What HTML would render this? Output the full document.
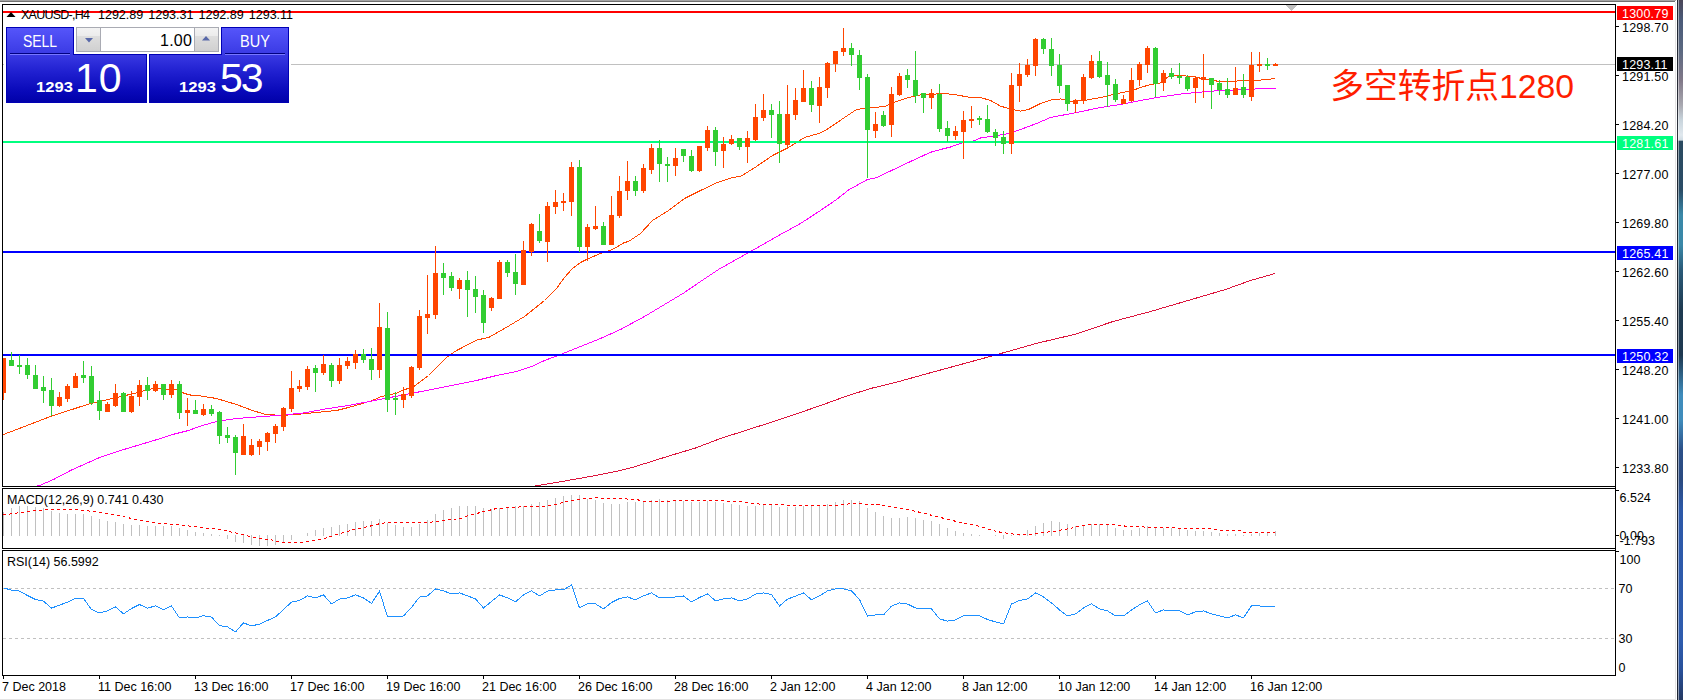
<!DOCTYPE html>
<html lang="zh"><head><meta charset="utf-8"><title>XAUUSD H4</title>
<style>
html,body{margin:0;padding:0;background:#fff;}
body{width:1683px;height:700px;position:relative;overflow:hidden;font-family:"Liberation Sans","Noto Sans CJK SC",sans-serif;}
#chart{position:absolute;left:0;top:0;}
.t{position:absolute;white-space:nowrap;line-height:1;color:#000;}
.ax{font-size:12.5px;left:1622px;letter-spacing:0.2px;}
.axi{font-size:12.5px;left:1619.5px;}
.tm{font-size:12.5px;top:681px;}
.lb{position:absolute;left:1617px;width:56px;height:14px;}
.lb span{position:absolute;left:5px;top:2px;font-size:12.5px;letter-spacing:0.2px;line-height:1;color:#fff;white-space:nowrap;}
#panel{position:absolute;left:6px;top:27px;width:283px;height:76px;}
.w{color:#fff;}
</style></head><body>
<svg id="chart" width="1683" height="700" viewBox="0 0 1683 700" shape-rendering="crispEdges">
<rect x="0" y="0" width="1676" height="1" fill="#a4a4a4"/><rect x="0" y="1" width="1675" height="1" fill="#707070"/>
<rect x="0" y="699" width="1676" height="1" fill="#e3e3e3"/>
<defs><linearGradient id="rg" x1="0" y1="0" x2="0" y2="1"><stop offset="0.0000" stop-color="#4a4658"/><stop offset="0.0286" stop-color="#4a5a78"/><stop offset="0.0714" stop-color="#5a6880"/><stop offset="0.1143" stop-color="#807888"/><stop offset="0.1500" stop-color="#a8a8b0"/><stop offset="0.1714" stop-color="#c8d4dc"/><stop offset="0.1929" stop-color="#e0e8ee"/><stop offset="0.2000" stop-color="#d0dce4"/><stop offset="0.2021" stop-color="#2a4a60"/><stop offset="0.2714" stop-color="#2a4c66"/><stop offset="0.3071" stop-color="#3a88a8"/><stop offset="0.3500" stop-color="#3a88a8"/><stop offset="0.3857" stop-color="#2a5a78"/><stop offset="0.4429" stop-color="#1e3a50"/><stop offset="0.5071" stop-color="#1e3850"/><stop offset="0.5643" stop-color="#3f8cbc"/><stop offset="0.6000" stop-color="#3f8cbc"/><stop offset="0.6429" stop-color="#2c5088"/><stop offset="0.6857" stop-color="#2a4a80"/><stop offset="0.7286" stop-color="#2c58a8"/><stop offset="0.9143" stop-color="#2e5cae"/><stop offset="0.9571" stop-color="#28509a"/><stop offset="1.0000" stop-color="#243860"/></linearGradient></defs>
<rect x="1675" y="2" width="1" height="698" fill="#e4e4e4"/>
<rect x="1677" y="0" width="6" height="700" fill="url(#rg)"/>
<rect x="1677" y="0" width="1" height="700" fill="#20242e" fill-opacity="0.92"/>
<rect x="1678" y="0" width="1" height="700" fill="#ffffff" fill-opacity="0.5"/>
<rect x="3" y="64" width="1612" height="1" fill="#c0c0c0"/>
<polyline points="3.5,434.5 50.5,416.5 88.5,404.1 112.5,398.5 136.5,392.9 152.5,388.5 176.5,389.5 184.5,393.5 192.5,395.5 200.5,395.9 216.5,398.5 236.5,404.5 252.5,410.5 264.5,414.1 280.5,415.5 296.5,414.5 316.5,412.5 336.5,410.5 348.5,407.5 372.5,400.5 380.5,396.9 396.5,393.1 404.5,389.5 412.5,387.5 420.5,381.5 428.5,375.5 436.5,367.5 446.5,357.5 456.5,350.5 460.5,348.5 476.5,340.1 488.5,337.5 504.5,328.5 524.5,316.5 544.5,300.5 556.5,288.5 564.5,277.5 572.5,268.5 580.5,262.5 588.5,258.5 600.5,253.5 612.5,249.5 624.5,242.5 628.5,241.5 640.5,233.5 652.5,220.5 668.5,210.5 684.5,198.5 700.5,190.5 716.5,182.9 732.5,177.5 740.5,176.5 756.5,166.5 772.5,155.5 788.5,147.5 804.5,137.5 820.5,132.9 828.5,128.5 844.5,117.5 856.5,109.5 868.5,107.9 884.5,106.5 896.5,101.5 908.5,97.5 920.5,94.9 934.5,94.1 944.5,93.5 956.5,94.9 968.5,97.1 980.5,97.5 990.5,100.5 1000.5,106.1 1010.5,109.1 1020.5,111.1 1028.5,109.5 1040.5,103.5 1050.5,100.1 1060.5,98.9 1070.5,101.5 1084.5,100.5 1100.5,97.5 1120.5,92.9 1132.5,90.5 1140.5,87.5 1150.5,84.5 1160.5,82.9 1168.5,76.5 1180.5,75.5 1196.5,77.1 1204.5,79.5 1220.5,81.5 1236.5,81.1 1244.5,80.1 1260.5,80.1 1275.5,78.5" fill="none" stroke="#ff4500" stroke-width="1" />
<polyline points="34.5,486.5 39.5,485.5 53.5,479.5 70.5,470.5 88.5,462.5 100.5,457.1 120.5,450.5 140.5,444.5 160.5,438.5 172.5,434.5 188.5,430.5 200.5,426.1 216.5,421.5 236.5,418.5 276.5,415.5 304.5,412.9 324.5,409.1 348.5,405.5 376.5,400.1 416.5,392.4 436.5,388.5 456.5,384.5 476.5,380.5 496.5,375.5 516.5,371.5 532.5,366.1 544.5,360.5 560.5,354.5 580.5,346.5 600.5,338.5 620.5,329.5 644.5,316.5 664.5,304.5 684.5,292.5 700.5,281.5 718.5,269.5 750.5,251.5 780.5,234.5 800.5,223.5 820.5,210.5 836.5,199.5 848.5,190.0 867.5,179.5 876.5,177.7 890.5,171.0 910.5,161.5 930.5,152.3 940.5,149.5 950.5,147.0 959.5,143.7 967.5,141.2 973.5,141.0 980.5,138.0 990.5,136.5 1000.5,135.0 1008.5,133.5 1020.5,129.5 1036.5,123.5 1050.5,117.5 1076.5,112.5 1100.5,107.5 1120.5,104.5 1140.5,100.5 1160.5,96.9 1180.5,94.1 1200.5,92.1 1220.5,90.5 1240.5,89.9 1256.5,88.9 1275.5,88.9" fill="none" stroke="#ff00ff" stroke-width="1" />
<polyline points="535.5,486.0 570.5,480.0 595.5,475.5 620.5,470.5 635.5,466.5 670.5,455.5 695.5,448.0 720.5,438.5 745.5,430.5 770.5,422.5 795.5,414.2 820.5,405.5 845.5,396.5 870.5,388.5 895.5,382.5 920.5,375.5 940.5,370.0 995.5,355.0 1038.0,343.0 1075.5,334.2 1113.0,321.5 1150.5,311.5 1188.0,300.5 1225.5,289.5 1250.5,280.5 1275.0,273.5" fill="none" stroke="#dc143c" stroke-width="1" />
<rect x="3" y="11" width="1612" height="2" fill="#ff0000"/>
<rect x="3" y="141" width="1612" height="2" fill="#00ff7f"/>
<rect x="3" y="251" width="1612" height="2" fill="#0000ff"/>
<rect x="3" y="354" width="1612" height="2" fill="#0000ff"/>
<rect x="3" y="358" width="1" height="42" fill="#ff4500"/><rect x="3" y="358" width="3" height="35" fill="#ff4500"/>
<rect x="11" y="352" width="1" height="14" fill="#32cd32"/><rect x="9" y="360" width="5" height="6" fill="#32cd32"/>
<rect x="19" y="355" width="1" height="19" fill="#32cd32"/><rect x="17" y="365" width="5" height="2" fill="#32cd32"/>
<rect x="27" y="358" width="1" height="21" fill="#32cd32"/><rect x="25" y="365" width="5" height="10" fill="#32cd32"/>
<rect x="35" y="365" width="1" height="24" fill="#32cd32"/><rect x="33" y="375" width="5" height="14" fill="#32cd32"/>
<rect x="43" y="376" width="1" height="27" fill="#32cd32"/><rect x="41" y="387" width="5" height="4" fill="#32cd32"/>
<rect x="51" y="378" width="1" height="38" fill="#32cd32"/><rect x="49" y="390" width="5" height="16" fill="#32cd32"/>
<rect x="59" y="392" width="1" height="15" fill="#ff4500"/><rect x="57" y="397" width="5" height="9" fill="#ff4500"/>
<rect x="67" y="384" width="1" height="18" fill="#ff4500"/><rect x="65" y="386" width="5" height="13" fill="#ff4500"/>
<rect x="75" y="373" width="1" height="15" fill="#ff4500"/><rect x="73" y="376" width="5" height="12" fill="#ff4500"/>
<rect x="83" y="361" width="1" height="22" fill="#32cd32"/><rect x="81" y="375" width="5" height="3" fill="#32cd32"/>
<rect x="91" y="366" width="1" height="39" fill="#32cd32"/><rect x="89" y="376" width="5" height="27" fill="#32cd32"/>
<rect x="99" y="391" width="1" height="29" fill="#32cd32"/><rect x="97" y="400" width="5" height="11" fill="#32cd32"/>
<rect x="107" y="402" width="1" height="10" fill="#ff4500"/><rect x="105" y="404" width="5" height="8" fill="#ff4500"/>
<rect x="115" y="384" width="1" height="23" fill="#ff4500"/><rect x="113" y="393" width="5" height="13" fill="#ff4500"/>
<rect x="123" y="392" width="1" height="20" fill="#32cd32"/><rect x="121" y="393" width="5" height="19" fill="#32cd32"/>
<rect x="131" y="391" width="1" height="22" fill="#ff4500"/><rect x="129" y="396" width="5" height="16" fill="#ff4500"/>
<rect x="139" y="380" width="1" height="26" fill="#ff4500"/><rect x="137" y="385" width="5" height="12" fill="#ff4500"/>
<rect x="147" y="377" width="1" height="23" fill="#32cd32"/><rect x="145" y="385" width="5" height="6" fill="#32cd32"/>
<rect x="155" y="381" width="1" height="11" fill="#ff4500"/><rect x="153" y="384" width="5" height="7" fill="#ff4500"/>
<rect x="163" y="384" width="1" height="16" fill="#32cd32"/><rect x="161" y="384" width="5" height="11" fill="#32cd32"/>
<rect x="171" y="380" width="1" height="18" fill="#ff4500"/><rect x="169" y="384" width="5" height="11" fill="#ff4500"/>
<rect x="179" y="381" width="1" height="38" fill="#32cd32"/><rect x="177" y="384" width="5" height="29" fill="#32cd32"/>
<rect x="187" y="398" width="1" height="28" fill="#ff4500"/><rect x="185" y="410" width="5" height="3" fill="#ff4500"/>
<rect x="195" y="400" width="1" height="14" fill="#32cd32"/><rect x="193" y="410" width="5" height="4" fill="#32cd32"/>
<rect x="203" y="404" width="1" height="12" fill="#ff4500"/><rect x="201" y="409" width="5" height="6" fill="#ff4500"/>
<rect x="211" y="405" width="1" height="11" fill="#32cd32"/><rect x="209" y="409" width="5" height="5" fill="#32cd32"/>
<rect x="219" y="411" width="1" height="33" fill="#32cd32"/><rect x="217" y="412" width="5" height="24" fill="#32cd32"/>
<rect x="227" y="427" width="1" height="16" fill="#32cd32"/><rect x="225" y="435" width="5" height="3" fill="#32cd32"/>
<rect x="235" y="435" width="1" height="40" fill="#32cd32"/><rect x="233" y="437" width="5" height="16" fill="#32cd32"/>
<rect x="243" y="424" width="1" height="31" fill="#ff4500"/><rect x="241" y="436" width="5" height="19" fill="#ff4500"/>
<rect x="251" y="439" width="1" height="17" fill="#ff4500"/><rect x="249" y="445" width="5" height="10" fill="#ff4500"/>
<rect x="259" y="439" width="1" height="16" fill="#ff4500"/><rect x="257" y="441" width="5" height="6" fill="#ff4500"/>
<rect x="267" y="432" width="1" height="19" fill="#ff4500"/><rect x="265" y="433" width="5" height="9" fill="#ff4500"/>
<rect x="275" y="424" width="1" height="19" fill="#ff4500"/><rect x="273" y="426" width="5" height="8" fill="#ff4500"/>
<rect x="283" y="407" width="1" height="24" fill="#ff4500"/><rect x="281" y="408" width="5" height="19" fill="#ff4500"/>
<rect x="291" y="371" width="1" height="41" fill="#ff4500"/><rect x="289" y="388" width="5" height="21" fill="#ff4500"/>
<rect x="299" y="380" width="1" height="12" fill="#ff4500"/><rect x="297" y="386" width="5" height="3" fill="#ff4500"/>
<rect x="307" y="366" width="1" height="24" fill="#ff4500"/><rect x="305" y="369" width="5" height="18" fill="#ff4500"/>
<rect x="315" y="365" width="1" height="27" fill="#32cd32"/><rect x="313" y="368" width="5" height="5" fill="#32cd32"/>
<rect x="323" y="355" width="1" height="20" fill="#ff4500"/><rect x="321" y="364" width="5" height="9" fill="#ff4500"/>
<rect x="331" y="363" width="1" height="24" fill="#32cd32"/><rect x="329" y="365" width="5" height="16" fill="#32cd32"/>
<rect x="339" y="358" width="1" height="26" fill="#ff4500"/><rect x="337" y="365" width="5" height="16" fill="#ff4500"/>
<rect x="347" y="357" width="1" height="12" fill="#ff4500"/><rect x="345" y="361" width="5" height="5" fill="#ff4500"/>
<rect x="355" y="350" width="1" height="19" fill="#ff4500"/><rect x="353" y="354" width="5" height="9" fill="#ff4500"/>
<rect x="363" y="349" width="1" height="14" fill="#32cd32"/><rect x="361" y="354" width="5" height="6" fill="#32cd32"/>
<rect x="371" y="348" width="1" height="32" fill="#32cd32"/><rect x="369" y="359" width="5" height="11" fill="#32cd32"/>
<rect x="379" y="303" width="1" height="75" fill="#ff4500"/><rect x="377" y="327" width="5" height="43" fill="#ff4500"/>
<rect x="387" y="312" width="1" height="100" fill="#32cd32"/><rect x="385" y="328" width="5" height="72" fill="#32cd32"/>
<rect x="395" y="392" width="1" height="23" fill="#32cd32"/><rect x="393" y="398" width="5" height="2" fill="#32cd32"/>
<rect x="403" y="387" width="1" height="21" fill="#ff4500"/><rect x="401" y="394" width="5" height="6" fill="#ff4500"/>
<rect x="411" y="366" width="1" height="32" fill="#ff4500"/><rect x="409" y="367" width="5" height="29" fill="#ff4500"/>
<rect x="419" y="310" width="1" height="60" fill="#ff4500"/><rect x="417" y="316" width="5" height="52" fill="#ff4500"/>
<rect x="427" y="275" width="1" height="59" fill="#ff4500"/><rect x="425" y="314" width="5" height="4" fill="#ff4500"/>
<rect x="435" y="246" width="1" height="73" fill="#ff4500"/><rect x="433" y="273" width="5" height="42" fill="#ff4500"/>
<rect x="443" y="263" width="1" height="32" fill="#32cd32"/><rect x="441" y="273" width="5" height="5" fill="#32cd32"/>
<rect x="451" y="272" width="1" height="19" fill="#32cd32"/><rect x="449" y="276" width="5" height="12" fill="#32cd32"/>
<rect x="459" y="278" width="1" height="21" fill="#ff4500"/><rect x="457" y="280" width="5" height="9" fill="#ff4500"/>
<rect x="467" y="271" width="1" height="46" fill="#32cd32"/><rect x="465" y="280" width="5" height="10" fill="#32cd32"/>
<rect x="475" y="276" width="1" height="37" fill="#32cd32"/><rect x="473" y="289" width="5" height="8" fill="#32cd32"/>
<rect x="483" y="290" width="1" height="43" fill="#32cd32"/><rect x="481" y="295" width="5" height="28" fill="#32cd32"/>
<rect x="491" y="297" width="1" height="14" fill="#ff4500"/><rect x="489" y="298" width="5" height="10" fill="#ff4500"/>
<rect x="499" y="260" width="1" height="39" fill="#ff4500"/><rect x="497" y="262" width="5" height="37" fill="#ff4500"/>
<rect x="507" y="260" width="1" height="17" fill="#32cd32"/><rect x="505" y="262" width="5" height="11" fill="#32cd32"/>
<rect x="515" y="254" width="1" height="41" fill="#32cd32"/><rect x="513" y="272" width="5" height="12" fill="#32cd32"/>
<rect x="523" y="241" width="1" height="44" fill="#ff4500"/><rect x="521" y="250" width="5" height="35" fill="#ff4500"/>
<rect x="531" y="223" width="1" height="33" fill="#ff4500"/><rect x="529" y="224" width="5" height="28" fill="#ff4500"/>
<rect x="539" y="214" width="1" height="29" fill="#32cd32"/><rect x="537" y="231" width="5" height="10" fill="#32cd32"/>
<rect x="547" y="202" width="1" height="60" fill="#ff4500"/><rect x="545" y="206" width="5" height="36" fill="#ff4500"/>
<rect x="555" y="190" width="1" height="24" fill="#ff4500"/><rect x="553" y="202" width="5" height="5" fill="#ff4500"/>
<rect x="563" y="193" width="1" height="18" fill="#ff4500"/><rect x="561" y="201" width="5" height="2" fill="#ff4500"/>
<rect x="571" y="162" width="1" height="54" fill="#ff4500"/><rect x="569" y="167" width="5" height="35" fill="#ff4500"/>
<rect x="579" y="160" width="1" height="92" fill="#32cd32"/><rect x="577" y="167" width="5" height="80" fill="#32cd32"/>
<rect x="587" y="224" width="1" height="37" fill="#ff4500"/><rect x="585" y="227" width="5" height="20" fill="#ff4500"/>
<rect x="595" y="206" width="1" height="24" fill="#ff4500"/><rect x="593" y="226" width="5" height="3" fill="#ff4500"/>
<rect x="603" y="222" width="1" height="23" fill="#32cd32"/><rect x="601" y="226" width="5" height="19" fill="#32cd32"/>
<rect x="611" y="196" width="1" height="49" fill="#ff4500"/><rect x="609" y="215" width="5" height="30" fill="#ff4500"/>
<rect x="619" y="176" width="1" height="42" fill="#ff4500"/><rect x="617" y="191" width="5" height="25" fill="#ff4500"/>
<rect x="627" y="161" width="1" height="39" fill="#ff4500"/><rect x="625" y="181" width="5" height="10" fill="#ff4500"/>
<rect x="635" y="176" width="1" height="20" fill="#32cd32"/><rect x="633" y="181" width="5" height="10" fill="#32cd32"/>
<rect x="643" y="164" width="1" height="29" fill="#ff4500"/><rect x="641" y="168" width="5" height="23" fill="#ff4500"/>
<rect x="651" y="144" width="1" height="30" fill="#ff4500"/><rect x="649" y="148" width="5" height="22" fill="#ff4500"/>
<rect x="659" y="140" width="1" height="42" fill="#32cd32"/><rect x="657" y="148" width="5" height="16" fill="#32cd32"/>
<rect x="667" y="157" width="1" height="25" fill="#32cd32"/><rect x="665" y="164" width="5" height="2" fill="#32cd32"/>
<rect x="675" y="148" width="1" height="28" fill="#ff4500"/><rect x="673" y="158" width="5" height="8" fill="#ff4500"/>
<rect x="683" y="149" width="1" height="13" fill="#32cd32"/><rect x="681" y="149" width="5" height="7" fill="#32cd32"/>
<rect x="691" y="150" width="1" height="22" fill="#32cd32"/><rect x="689" y="156" width="5" height="15" fill="#32cd32"/>
<rect x="699" y="146" width="1" height="26" fill="#ff4500"/><rect x="697" y="146" width="5" height="25" fill="#ff4500"/>
<rect x="707" y="126" width="1" height="25" fill="#ff4500"/><rect x="705" y="130" width="5" height="18" fill="#ff4500"/>
<rect x="715" y="127" width="1" height="39" fill="#32cd32"/><rect x="713" y="130" width="5" height="22" fill="#32cd32"/>
<rect x="723" y="137" width="1" height="31" fill="#ff4500"/><rect x="721" y="144" width="5" height="7" fill="#ff4500"/>
<rect x="731" y="135" width="1" height="10" fill="#ff4500"/><rect x="729" y="139" width="5" height="5" fill="#ff4500"/>
<rect x="739" y="138" width="1" height="12" fill="#32cd32"/><rect x="737" y="138" width="5" height="9" fill="#32cd32"/>
<rect x="747" y="131" width="1" height="32" fill="#ff4500"/><rect x="745" y="138" width="5" height="9" fill="#ff4500"/>
<rect x="755" y="104" width="1" height="37" fill="#ff4500"/><rect x="753" y="117" width="5" height="23" fill="#ff4500"/>
<rect x="763" y="94" width="1" height="27" fill="#ff4500"/><rect x="761" y="110" width="5" height="8" fill="#ff4500"/>
<rect x="771" y="104" width="1" height="34" fill="#32cd32"/><rect x="769" y="110" width="5" height="5" fill="#32cd32"/>
<rect x="779" y="101" width="1" height="62" fill="#32cd32"/><rect x="777" y="114" width="5" height="30" fill="#32cd32"/>
<rect x="787" y="85" width="1" height="63" fill="#ff4500"/><rect x="785" y="114" width="5" height="31" fill="#ff4500"/>
<rect x="795" y="88" width="1" height="32" fill="#ff4500"/><rect x="793" y="100" width="5" height="15" fill="#ff4500"/>
<rect x="803" y="70" width="1" height="32" fill="#ff4500"/><rect x="801" y="88" width="5" height="14" fill="#ff4500"/>
<rect x="811" y="81" width="1" height="31" fill="#32cd32"/><rect x="809" y="88" width="5" height="17" fill="#32cd32"/>
<rect x="819" y="77" width="1" height="46" fill="#ff4500"/><rect x="817" y="87" width="5" height="19" fill="#ff4500"/>
<rect x="827" y="62" width="1" height="36" fill="#ff4500"/><rect x="825" y="63" width="5" height="25" fill="#ff4500"/>
<rect x="835" y="51" width="1" height="21" fill="#ff4500"/><rect x="833" y="51" width="5" height="13" fill="#ff4500"/>
<rect x="843" y="28" width="1" height="28" fill="#ff4500"/><rect x="841" y="48" width="5" height="4" fill="#ff4500"/>
<rect x="851" y="43" width="1" height="23" fill="#32cd32"/><rect x="849" y="48" width="5" height="7" fill="#32cd32"/>
<rect x="859" y="50" width="1" height="40" fill="#32cd32"/><rect x="857" y="55" width="5" height="23" fill="#32cd32"/>
<rect x="867" y="74" width="1" height="104" fill="#32cd32"/><rect x="865" y="77" width="5" height="53" fill="#32cd32"/>
<rect x="875" y="112" width="1" height="26" fill="#ff4500"/><rect x="873" y="124" width="5" height="7" fill="#ff4500"/>
<rect x="883" y="111" width="1" height="16" fill="#32cd32"/><rect x="881" y="115" width="5" height="11" fill="#32cd32"/>
<rect x="891" y="87" width="1" height="50" fill="#ff4500"/><rect x="889" y="94" width="5" height="31" fill="#ff4500"/>
<rect x="899" y="73" width="1" height="23" fill="#ff4500"/><rect x="897" y="76" width="5" height="19" fill="#ff4500"/>
<rect x="907" y="69" width="1" height="19" fill="#32cd32"/><rect x="905" y="75" width="5" height="5" fill="#32cd32"/>
<rect x="915" y="51" width="1" height="52" fill="#32cd32"/><rect x="913" y="80" width="5" height="16" fill="#32cd32"/>
<rect x="923" y="93" width="1" height="20" fill="#32cd32"/><rect x="921" y="93" width="5" height="5" fill="#32cd32"/>
<rect x="931" y="89" width="1" height="20" fill="#ff4500"/><rect x="929" y="93" width="5" height="5" fill="#ff4500"/>
<rect x="939" y="84" width="1" height="48" fill="#32cd32"/><rect x="937" y="94" width="5" height="35" fill="#32cd32"/>
<rect x="947" y="121" width="1" height="21" fill="#32cd32"/><rect x="945" y="128" width="5" height="8" fill="#32cd32"/>
<rect x="955" y="126" width="1" height="14" fill="#ff4500"/><rect x="953" y="131" width="5" height="5" fill="#ff4500"/>
<rect x="963" y="111" width="1" height="48" fill="#ff4500"/><rect x="961" y="120" width="5" height="12" fill="#ff4500"/>
<rect x="971" y="106" width="1" height="22" fill="#ff4500"/><rect x="969" y="119" width="5" height="2" fill="#ff4500"/>
<rect x="979" y="116" width="1" height="9" fill="#32cd32"/><rect x="977" y="118" width="5" height="2" fill="#32cd32"/>
<rect x="987" y="105" width="1" height="28" fill="#32cd32"/><rect x="985" y="119" width="5" height="13" fill="#32cd32"/>
<rect x="995" y="129" width="1" height="17" fill="#32cd32"/><rect x="993" y="132" width="5" height="6" fill="#32cd32"/>
<rect x="1003" y="131" width="1" height="23" fill="#32cd32"/><rect x="1001" y="137" width="5" height="7" fill="#32cd32"/>
<rect x="1011" y="73" width="1" height="81" fill="#ff4500"/><rect x="1009" y="85" width="5" height="59" fill="#ff4500"/>
<rect x="1019" y="63" width="1" height="39" fill="#ff4500"/><rect x="1017" y="74" width="5" height="12" fill="#ff4500"/>
<rect x="1027" y="59" width="1" height="18" fill="#ff4500"/><rect x="1025" y="65" width="5" height="10" fill="#ff4500"/>
<rect x="1035" y="38" width="1" height="38" fill="#ff4500"/><rect x="1033" y="39" width="5" height="27" fill="#ff4500"/>
<rect x="1043" y="38" width="1" height="16" fill="#32cd32"/><rect x="1041" y="39" width="5" height="10" fill="#32cd32"/>
<rect x="1051" y="38" width="1" height="38" fill="#32cd32"/><rect x="1049" y="49" width="5" height="17" fill="#32cd32"/>
<rect x="1059" y="54" width="1" height="39" fill="#32cd32"/><rect x="1057" y="65" width="5" height="21" fill="#32cd32"/>
<rect x="1067" y="85" width="1" height="26" fill="#32cd32"/><rect x="1065" y="85" width="5" height="19" fill="#32cd32"/>
<rect x="1075" y="99" width="1" height="14" fill="#ff4500"/><rect x="1073" y="100" width="5" height="4" fill="#ff4500"/>
<rect x="1083" y="74" width="1" height="30" fill="#ff4500"/><rect x="1081" y="77" width="5" height="24" fill="#ff4500"/>
<rect x="1091" y="55" width="1" height="24" fill="#ff4500"/><rect x="1089" y="61" width="5" height="17" fill="#ff4500"/>
<rect x="1099" y="51" width="1" height="27" fill="#32cd32"/><rect x="1097" y="61" width="5" height="16" fill="#32cd32"/>
<rect x="1107" y="62" width="1" height="45" fill="#32cd32"/><rect x="1105" y="75" width="5" height="10" fill="#32cd32"/>
<rect x="1115" y="79" width="1" height="23" fill="#32cd32"/><rect x="1113" y="84" width="5" height="16" fill="#32cd32"/>
<rect x="1123" y="95" width="1" height="9" fill="#ff4500"/><rect x="1121" y="99" width="5" height="5" fill="#ff4500"/>
<rect x="1131" y="68" width="1" height="34" fill="#ff4500"/><rect x="1129" y="80" width="5" height="21" fill="#ff4500"/>
<rect x="1139" y="62" width="1" height="24" fill="#ff4500"/><rect x="1137" y="64" width="5" height="16" fill="#ff4500"/>
<rect x="1147" y="46" width="1" height="27" fill="#ff4500"/><rect x="1145" y="48" width="5" height="17" fill="#ff4500"/>
<rect x="1155" y="47" width="1" height="50" fill="#32cd32"/><rect x="1153" y="48" width="5" height="36" fill="#32cd32"/>
<rect x="1163" y="70" width="1" height="21" fill="#ff4500"/><rect x="1161" y="73" width="5" height="10" fill="#ff4500"/>
<rect x="1171" y="68" width="1" height="11" fill="#32cd32"/><rect x="1169" y="73" width="5" height="4" fill="#32cd32"/>
<rect x="1179" y="63" width="1" height="21" fill="#32cd32"/><rect x="1177" y="76" width="5" height="2" fill="#32cd32"/>
<rect x="1187" y="75" width="1" height="16" fill="#32cd32"/><rect x="1185" y="77" width="5" height="12" fill="#32cd32"/>
<rect x="1195" y="77" width="1" height="26" fill="#ff4500"/><rect x="1193" y="78" width="5" height="10" fill="#ff4500"/>
<rect x="1203" y="54" width="1" height="44" fill="#ff4500"/><rect x="1201" y="77" width="5" height="3" fill="#ff4500"/>
<rect x="1211" y="78" width="1" height="31" fill="#32cd32"/><rect x="1209" y="78" width="5" height="7" fill="#32cd32"/>
<rect x="1219" y="80" width="1" height="15" fill="#32cd32"/><rect x="1217" y="83" width="5" height="7" fill="#32cd32"/>
<rect x="1227" y="78" width="1" height="20" fill="#32cd32"/><rect x="1225" y="89" width="5" height="6" fill="#32cd32"/>
<rect x="1235" y="67" width="1" height="28" fill="#ff4500"/><rect x="1233" y="88" width="5" height="7" fill="#ff4500"/>
<rect x="1243" y="74" width="1" height="24" fill="#32cd32"/><rect x="1241" y="87" width="5" height="8" fill="#32cd32"/>
<rect x="1251" y="52" width="1" height="49" fill="#ff4500"/><rect x="1249" y="65" width="5" height="32" fill="#ff4500"/>
<rect x="1259" y="52" width="1" height="20" fill="#ff4500"/><rect x="1257" y="64" width="5" height="2" fill="#ff4500"/>
<rect x="1267" y="58" width="1" height="12" fill="#32cd32"/><rect x="1265" y="64" width="5" height="2" fill="#32cd32"/>
<rect x="1275" y="63" width="1" height="3" fill="#ff4500"/><rect x="1273" y="64" width="5" height="2" fill="#ff4500"/>
<polygon points="1285,5 1297,5 1291,11" fill="#c0c0c0"/>
<rect x="3" y="512" width="1" height="24" fill="#c0c0c0"/><rect x="11" y="508" width="1" height="28" fill="#c0c0c0"/><rect x="19" y="506" width="1" height="30" fill="#c0c0c0"/><rect x="27" y="506" width="1" height="30" fill="#c0c0c0"/><rect x="35" y="507" width="1" height="29" fill="#c0c0c0"/><rect x="43" y="508" width="1" height="28" fill="#c0c0c0"/><rect x="51" y="511" width="1" height="25" fill="#c0c0c0"/><rect x="59" y="513" width="1" height="23" fill="#c0c0c0"/><rect x="67" y="514" width="1" height="22" fill="#c0c0c0"/><rect x="75" y="514" width="1" height="22" fill="#c0c0c0"/><rect x="83" y="514" width="1" height="22" fill="#c0c0c0"/><rect x="91" y="516" width="1" height="20" fill="#c0c0c0"/><rect x="99" y="519" width="1" height="17" fill="#c0c0c0"/><rect x="107" y="521" width="1" height="15" fill="#c0c0c0"/><rect x="115" y="522" width="1" height="14" fill="#c0c0c0"/><rect x="123" y="524" width="1" height="12" fill="#c0c0c0"/><rect x="131" y="525" width="1" height="11" fill="#c0c0c0"/><rect x="139" y="525" width="1" height="11" fill="#c0c0c0"/><rect x="147" y="526" width="1" height="10" fill="#c0c0c0"/><rect x="155" y="526" width="1" height="10" fill="#c0c0c0"/><rect x="163" y="526" width="1" height="10" fill="#c0c0c0"/><rect x="171" y="526" width="1" height="10" fill="#c0c0c0"/><rect x="179" y="528" width="1" height="8" fill="#c0c0c0"/><rect x="187" y="530" width="1" height="6" fill="#c0c0c0"/><rect x="195" y="532" width="1" height="4" fill="#c0c0c0"/><rect x="203" y="533" width="1" height="3" fill="#c0c0c0"/><rect x="211" y="534" width="1" height="2" fill="#c0c0c0"/><rect x="219" y="535" width="1" height="1" fill="#c0c0c0"/><rect x="227" y="535" width="1" height="4" fill="#c0c0c0"/><rect x="235" y="535" width="1" height="7" fill="#c0c0c0"/><rect x="243" y="535" width="1" height="8" fill="#c0c0c0"/><rect x="251" y="535" width="1" height="10" fill="#c0c0c0"/><rect x="259" y="535" width="1" height="11" fill="#c0c0c0"/><rect x="267" y="535" width="1" height="11" fill="#c0c0c0"/><rect x="275" y="535" width="1" height="10" fill="#c0c0c0"/><rect x="283" y="535" width="1" height="8" fill="#c0c0c0"/><rect x="291" y="535" width="1" height="5" fill="#c0c0c0"/><rect x="307" y="533" width="1" height="3" fill="#c0c0c0"/><rect x="315" y="530" width="1" height="6" fill="#c0c0c0"/><rect x="323" y="528" width="1" height="8" fill="#c0c0c0"/><rect x="331" y="527" width="1" height="9" fill="#c0c0c0"/><rect x="339" y="525" width="1" height="11" fill="#c0c0c0"/><rect x="347" y="524" width="1" height="12" fill="#c0c0c0"/><rect x="355" y="522" width="1" height="14" fill="#c0c0c0"/><rect x="363" y="521" width="1" height="15" fill="#c0c0c0"/><rect x="371" y="521" width="1" height="15" fill="#c0c0c0"/><rect x="379" y="519" width="1" height="17" fill="#c0c0c0"/><rect x="387" y="523" width="1" height="13" fill="#c0c0c0"/><rect x="395" y="525" width="1" height="11" fill="#c0c0c0"/><rect x="403" y="527" width="1" height="9" fill="#c0c0c0"/><rect x="411" y="527" width="1" height="9" fill="#c0c0c0"/><rect x="419" y="524" width="1" height="12" fill="#c0c0c0"/><rect x="427" y="520" width="1" height="16" fill="#c0c0c0"/><rect x="435" y="514" width="1" height="22" fill="#c0c0c0"/><rect x="443" y="510" width="1" height="26" fill="#c0c0c0"/><rect x="451" y="508" width="1" height="28" fill="#c0c0c0"/><rect x="459" y="506" width="1" height="30" fill="#c0c0c0"/><rect x="467" y="506" width="1" height="30" fill="#c0c0c0"/><rect x="475" y="506" width="1" height="30" fill="#c0c0c0"/><rect x="483" y="508" width="1" height="28" fill="#c0c0c0"/><rect x="491" y="509" width="1" height="27" fill="#c0c0c0"/><rect x="499" y="508" width="1" height="28" fill="#c0c0c0"/><rect x="507" y="507" width="1" height="29" fill="#c0c0c0"/><rect x="515" y="506" width="1" height="30" fill="#c0c0c0"/><rect x="523" y="506" width="1" height="30" fill="#c0c0c0"/><rect x="531" y="504" width="1" height="32" fill="#c0c0c0"/><rect x="539" y="502" width="1" height="34" fill="#c0c0c0"/><rect x="547" y="500" width="1" height="36" fill="#c0c0c0"/><rect x="555" y="498" width="1" height="38" fill="#c0c0c0"/><rect x="563" y="496" width="1" height="40" fill="#c0c0c0"/><rect x="571" y="495" width="1" height="41" fill="#c0c0c0"/><rect x="579" y="495" width="1" height="41" fill="#c0c0c0"/><rect x="587" y="499" width="1" height="37" fill="#c0c0c0"/><rect x="595" y="500" width="1" height="36" fill="#c0c0c0"/><rect x="603" y="503" width="1" height="33" fill="#c0c0c0"/><rect x="611" y="504" width="1" height="32" fill="#c0c0c0"/><rect x="619" y="504" width="1" height="32" fill="#c0c0c0"/><rect x="627" y="502" width="1" height="34" fill="#c0c0c0"/><rect x="635" y="502" width="1" height="34" fill="#c0c0c0"/><rect x="643" y="501" width="1" height="35" fill="#c0c0c0"/><rect x="651" y="500" width="1" height="36" fill="#c0c0c0"/><rect x="659" y="499" width="1" height="37" fill="#c0c0c0"/><rect x="667" y="500" width="1" height="36" fill="#c0c0c0"/><rect x="675" y="501" width="1" height="35" fill="#c0c0c0"/><rect x="683" y="501" width="1" height="35" fill="#c0c0c0"/><rect x="691" y="502" width="1" height="34" fill="#c0c0c0"/><rect x="699" y="502" width="1" height="34" fill="#c0c0c0"/><rect x="707" y="501" width="1" height="35" fill="#c0c0c0"/><rect x="715" y="502" width="1" height="34" fill="#c0c0c0"/><rect x="723" y="503" width="1" height="33" fill="#c0c0c0"/><rect x="731" y="504" width="1" height="32" fill="#c0c0c0"/><rect x="739" y="505" width="1" height="31" fill="#c0c0c0"/><rect x="747" y="506" width="1" height="30" fill="#c0c0c0"/><rect x="755" y="506" width="1" height="30" fill="#c0c0c0"/><rect x="763" y="505" width="1" height="31" fill="#c0c0c0"/><rect x="771" y="505" width="1" height="31" fill="#c0c0c0"/><rect x="779" y="507" width="1" height="29" fill="#c0c0c0"/><rect x="787" y="507" width="1" height="29" fill="#c0c0c0"/><rect x="795" y="507" width="1" height="29" fill="#c0c0c0"/><rect x="803" y="506" width="1" height="30" fill="#c0c0c0"/><rect x="811" y="506" width="1" height="30" fill="#c0c0c0"/><rect x="819" y="506" width="1" height="30" fill="#c0c0c0"/><rect x="827" y="504" width="1" height="32" fill="#c0c0c0"/><rect x="835" y="502" width="1" height="34" fill="#c0c0c0"/><rect x="843" y="500" width="1" height="36" fill="#c0c0c0"/><rect x="851" y="500" width="1" height="36" fill="#c0c0c0"/><rect x="859" y="501" width="1" height="35" fill="#c0c0c0"/><rect x="867" y="508" width="1" height="28" fill="#c0c0c0"/><rect x="875" y="512" width="1" height="24" fill="#c0c0c0"/><rect x="883" y="516" width="1" height="20" fill="#c0c0c0"/><rect x="891" y="518" width="1" height="18" fill="#c0c0c0"/><rect x="899" y="518" width="1" height="18" fill="#c0c0c0"/><rect x="907" y="517" width="1" height="19" fill="#c0c0c0"/><rect x="915" y="518" width="1" height="18" fill="#c0c0c0"/><rect x="923" y="520" width="1" height="16" fill="#c0c0c0"/><rect x="931" y="521" width="1" height="15" fill="#c0c0c0"/><rect x="939" y="524" width="1" height="12" fill="#c0c0c0"/><rect x="947" y="528" width="1" height="8" fill="#c0c0c0"/><rect x="955" y="531" width="1" height="5" fill="#c0c0c0"/><rect x="963" y="533" width="1" height="3" fill="#c0c0c0"/><rect x="971" y="534" width="1" height="2" fill="#c0c0c0"/><rect x="979" y="535" width="1" height="1" fill="#c0c0c0"/><rect x="995" y="535" width="1" height="1" fill="#c0c0c0"/><rect x="1003" y="535" width="1" height="4" fill="#c0c0c0"/><rect x="1011" y="535" width="1" height="1" fill="#c0c0c0"/><rect x="1019" y="534" width="1" height="2" fill="#c0c0c0"/><rect x="1027" y="530" width="1" height="6" fill="#c0c0c0"/><rect x="1035" y="526" width="1" height="10" fill="#c0c0c0"/><rect x="1043" y="523" width="1" height="13" fill="#c0c0c0"/><rect x="1051" y="521" width="1" height="15" fill="#c0c0c0"/><rect x="1059" y="522" width="1" height="14" fill="#c0c0c0"/><rect x="1067" y="524" width="1" height="12" fill="#c0c0c0"/><rect x="1075" y="526" width="1" height="10" fill="#c0c0c0"/><rect x="1083" y="525" width="1" height="11" fill="#c0c0c0"/><rect x="1091" y="524" width="1" height="12" fill="#c0c0c0"/><rect x="1099" y="524" width="1" height="12" fill="#c0c0c0"/><rect x="1107" y="525" width="1" height="11" fill="#c0c0c0"/><rect x="1115" y="528" width="1" height="8" fill="#c0c0c0"/><rect x="1123" y="530" width="1" height="6" fill="#c0c0c0"/><rect x="1131" y="530" width="1" height="6" fill="#c0c0c0"/><rect x="1139" y="528" width="1" height="8" fill="#c0c0c0"/><rect x="1147" y="526" width="1" height="10" fill="#c0c0c0"/><rect x="1155" y="527" width="1" height="9" fill="#c0c0c0"/><rect x="1163" y="528" width="1" height="8" fill="#c0c0c0"/><rect x="1171" y="528" width="1" height="8" fill="#c0c0c0"/><rect x="1179" y="529" width="1" height="7" fill="#c0c0c0"/><rect x="1187" y="530" width="1" height="6" fill="#c0c0c0"/><rect x="1195" y="531" width="1" height="5" fill="#c0c0c0"/><rect x="1203" y="531" width="1" height="5" fill="#c0c0c0"/><rect x="1211" y="532" width="1" height="4" fill="#c0c0c0"/><rect x="1219" y="533" width="1" height="3" fill="#c0c0c0"/><rect x="1227" y="534" width="1" height="2" fill="#c0c0c0"/><rect x="1235" y="534" width="1" height="2" fill="#c0c0c0"/><rect x="1243" y="535" width="1" height="1" fill="#c0c0c0"/><rect x="1251" y="534" width="1" height="2" fill="#c0c0c0"/><rect x="1259" y="533" width="1" height="3" fill="#c0c0c0"/><rect x="1267" y="532" width="1" height="4" fill="#c0c0c0"/><rect x="1275" y="531" width="1" height="5" fill="#c0c0c0"/>
<polyline points="3.5,514.9 20.5,512.5 36.5,510.5 60.5,509.1 80.5,509.9 92.5,511.5 120.5,516.1 136.5,519.5 160.5,523.5 180.5,524.9 200.5,527.5 220.5,529.5 240.5,534.1 256.5,538.1 272.5,540.1 284.5,542.9 300.5,542.9 312.5,540.5 324.5,538.5 336.5,534.5 340.5,533.5 352.5,529.9 368.5,526.5 380.5,523.5 388.5,522.5 428.5,522.5 436.5,521.5 460.5,518.5 468.5,515.5 496.5,508.5 520.5,506.9 548.5,505.9 560.5,503.1 576.5,499.5 596.5,497.9 616.5,498.5 636.5,499.5 644.5,501.5 664.5,501.9 672.5,500.9 724.5,500.9 744.5,502.1 756.5,503.9 796.5,505.5 836.5,505.5 848.5,503.9 876.5,504.1 896.5,507.5 916.5,511.5 936.5,516.5 956.5,521.5 976.5,525.5 987.5,528.9 996.5,531.5 1008.5,533.5 1020.5,534.9 1030.5,534.9 1040.5,532.9 1056.5,530.9 1072.5,527.9 1080.5,525.9 1096.5,524.1 1112.5,524.1 1122.5,525.9 1140.5,526.9 1160.5,527.5 1200.5,528.9 1212.5,528.9 1220.5,530.5 1240.5,530.9 1244.5,532.5 1275.5,532.9" fill="none" stroke="#ff0000" stroke-width="1" stroke-dasharray="3 3"/>
<line x1="3" y1="588.5" x2="1615" y2="588.5" stroke="#c0c0c0" stroke-dasharray="3 3"/>
<line x1="3" y1="638.5" x2="1615" y2="638.5" stroke="#c0c0c0" stroke-dasharray="3 3"/>
<polyline points="3.5,587.9 11.5,590.1 19.5,591.1 27.5,595.5 35.5,599.5 43.5,601.1 51.5,608.1 59.5,605.1 67.5,602.1 75.5,598.5 83.5,598.5 91.5,609.5 99.5,612.9 107.5,610.9 115.5,606.9 123.5,613.9 131.5,608.5 139.5,604.5 147.5,608.1 155.5,605.9 163.5,609.9 171.5,605.9 179.5,617.9 187.5,616.9 195.5,617.9 203.5,615.7 211.5,617.1 219.5,625.5 227.5,626.9 235.5,631.9 243.5,622.9 251.5,625.9 259.5,624.1 267.5,620.5 275.5,616.9 283.5,609.5 291.5,602.1 299.5,600.5 307.5,595.9 315.5,597.9 323.5,594.9 331.5,603.9 339.5,599.1 347.5,597.9 355.5,594.9 363.5,597.9 371.5,603.5 379.5,591.1 387.5,616.9 395.5,616.9 403.5,615.9 411.5,607.5 419.5,597.1 427.5,595.9 435.5,588.9 443.5,590.9 451.5,593.9 459.5,592.9 467.5,595.9 475.5,598.9 483.5,607.9 491.5,601.5 499.5,594.9 507.5,597.9 515.5,601.9 523.5,594.9 531.5,590.9 539.5,595.9 547.5,591.1 555.5,589.9 563.5,589.9 571.5,584.9 579.5,607.9 587.5,603.9 595.5,603.9 603.5,608.9 611.5,602.5 619.5,598.5 627.5,596.9 635.5,599.9 643.5,595.9 651.5,592.9 659.5,597.9 667.5,597.9 675.5,596.9 683.5,595.9 691.5,601.9 699.5,597.5 707.5,593.9 715.5,600.9 723.5,598.9 731.5,597.9 739.5,600.9 747.5,598.9 755.5,594.1 763.5,592.9 771.5,594.5 779.5,605.9 787.5,599.1 795.5,596.1 803.5,592.9 811.5,599.9 819.5,595.9 827.5,590.9 835.5,588.9 843.5,588.9 851.5,590.9 859.5,599.5 867.5,616.1 875.5,614.9 883.5,614.9 891.5,606.1 899.5,602.9 907.5,604.1 915.5,607.9 923.5,608.9 931.5,608.9 939.5,618.9 947.5,621.1 955.5,619.9 963.5,615.9 971.5,615.9 979.5,615.9 987.5,619.5 995.5,621.9 1003.5,623.9 1011.5,603.9 1019.5,600.5 1027.5,598.9 1035.5,592.9 1043.5,596.9 1051.5,602.9 1059.5,609.9 1067.5,615.9 1075.5,613.9 1083.5,607.9 1091.5,603.9 1099.5,608.9 1107.5,610.9 1115.5,615.9 1123.5,615.9 1131.5,609.9 1139.5,604.9 1147.5,600.9 1155.5,612.9 1163.5,609.9 1171.5,610.9 1179.5,610.9 1187.5,614.9 1195.5,611.9 1203.5,610.9 1211.5,613.9 1219.5,615.9 1227.5,617.9 1235.5,614.9 1243.5,617.9 1251.5,605.9 1259.5,605.9 1267.5,606.9 1275.5,605.9" fill="none" stroke="#1e90ff" stroke-width="1" />
<rect x="2" y="4" width="1614" height="1" fill="#000"/><rect x="2" y="486" width="1614" height="1" fill="#000"/><rect x="2" y="488" width="1614" height="1" fill="#000"/><rect x="2" y="548" width="1614" height="1" fill="#000"/><rect x="2" y="550" width="1614" height="1" fill="#000"/><rect x="2" y="675" width="1614" height="1" fill="#000"/><rect x="2" y="4" width="1" height="483" fill="#000"/><rect x="2" y="488" width="1" height="61" fill="#000"/><rect x="2" y="550" width="1" height="126" fill="#000"/><rect x="1615" y="4" width="1" height="672" fill="#000"/>
<rect x="1616" y="26" width="3" height="1" fill="#000"/><rect x="1616" y="75" width="3" height="1" fill="#000"/><rect x="1616" y="124" width="3" height="1" fill="#000"/><rect x="1616" y="173" width="3" height="1" fill="#000"/><rect x="1616" y="222" width="3" height="1" fill="#000"/><rect x="1616" y="271" width="3" height="1" fill="#000"/><rect x="1616" y="320" width="3" height="1" fill="#000"/><rect x="1616" y="369" width="3" height="1" fill="#000"/><rect x="1616" y="418" width="3" height="1" fill="#000"/><rect x="1616" y="467" width="3" height="1" fill="#000"/><rect x="1616" y="490" width="3" height="1" fill="#000"/><rect x="1616" y="535" width="3" height="1" fill="#000"/><rect x="1616" y="551" width="3" height="1" fill="#000"/>
<rect x="3" y="676" width="1" height="3" fill="#000"/><rect x="99" y="676" width="1" height="3" fill="#000"/><rect x="195" y="676" width="1" height="3" fill="#000"/><rect x="291" y="676" width="1" height="3" fill="#000"/><rect x="387" y="676" width="1" height="3" fill="#000"/><rect x="483" y="676" width="1" height="3" fill="#000"/><rect x="579" y="676" width="1" height="3" fill="#000"/><rect x="675" y="676" width="1" height="3" fill="#000"/><rect x="771" y="676" width="1" height="3" fill="#000"/><rect x="867" y="676" width="1" height="3" fill="#000"/><rect x="963" y="676" width="1" height="3" fill="#000"/><rect x="1059" y="676" width="1" height="3" fill="#000"/><rect x="1155" y="676" width="1" height="3" fill="#000"/><rect x="1251" y="676" width="1" height="3" fill="#000"/>
</svg>
<svg class="t" style="left:5.5px;top:11px" width="10" height="7"><polygon points="0.5,6 9.5,6 5,1" fill="#000"/></svg>
<div class="t" id="title" style="left:21px;top:9px;font-size:12.5px;letter-spacing:-0.75px">XAUUSD-,H4</div><div class="t" id="title2" style="left:98px;top:9px;font-size:12.5px;word-spacing:1.6px">1292.89 1293.31 1292.89 1293.11</div>
<div class="t ax" style="top:21.5px">1298.70</div><div class="t ax" style="top:70.5px">1291.50</div><div class="t ax" style="top:119.5px">1284.20</div><div class="t ax" style="top:168.5px">1277.00</div><div class="t ax" style="top:217.5px">1269.80</div><div class="t ax" style="top:266.5px">1262.60</div><div class="t ax" style="top:315.5px">1255.40</div><div class="t ax" style="top:364.5px">1248.20</div><div class="t ax" style="top:413.5px">1241.00</div><div class="t ax" style="top:462.5px">1233.80</div>
<div class="lb" style="top:6px;background:#ff0000"><span>1300.79</span></div><div class="lb" style="top:57px;background:#000000"><span>1293.11</span></div><div class="lb" style="top:136px;background:#00ff7f"><span>1281.61</span></div><div class="lb" style="top:246px;background:#0000ff"><span>1265.41</span></div><div class="lb" style="top:349px;background:#0000ff"><span>1250.32</span></div>
<div class="t axi" style="top:492px;left:1619.5px">6.524</div><div class="t axi" style="top:530px;left:1619.5px">0.00</div><div class="t axi" style="top:535px;left:1619.5px">-1.793</div><div class="t axi" style="top:554px;left:1619.5px">100</div><div class="t axi" style="top:583px;left:1618.5px">70</div><div class="t axi" style="top:633px;left:1618.5px">30</div><div class="t axi" style="top:662px;left:1618.5px">0</div>
<div class="t tm" style="left:2px">7 Dec 2018</div><div class="t tm" style="left:98px">11 Dec 16:00</div><div class="t tm" style="left:194px">13 Dec 16:00</div><div class="t tm" style="left:290px">17 Dec 16:00</div><div class="t tm" style="left:386px">19 Dec 16:00</div><div class="t tm" style="left:482px">21 Dec 16:00</div><div class="t tm" style="left:578px">26 Dec 16:00</div><div class="t tm" style="left:674px">28 Dec 16:00</div><div class="t tm" style="left:770px">2 Jan 12:00</div><div class="t tm" style="left:866px">4 Jan 12:00</div><div class="t tm" style="left:962px">8 Jan 12:00</div><div class="t tm" style="left:1058px">10 Jan 12:00</div><div class="t tm" style="left:1154px">14 Jan 12:00</div><div class="t tm" style="left:1250px">16 Jan 12:00</div>
<div class="t" style="left:7px;top:494px;font-size:12.5px">MACD(12,26,9) 0.741 0.430</div>
<div class="t" style="left:7px;top:556px;font-size:12.5px">RSI(14) 56.5992</div>
<div class="t" id="ann" style="left:1330.2px;top:62px;font-size:33.75px;line-height:48px;color:#ff1e00;font-family:'Liberation Sans','Noto Sans CJK SC',sans-serif">多空转折点1280</div>
<div id="panel">
<svg style="position:absolute;left:-2px;top:-1px" width="287" height="78" viewBox="4 26 287 78" shape-rendering="crispEdges">
<defs><linearGradient id="pg" gradientUnits="userSpaceOnUse" x1="0" y1="27" x2="0" y2="103"><stop offset="0" stop-color="#5656fb"/><stop offset="0.355" stop-color="#3a3ae4"/><stop offset="0.59" stop-color="#2020d0"/><stop offset="0.855" stop-color="#0808b8"/><stop offset="1" stop-color="#0000a8"/></linearGradient></defs>
<rect x="4" y="26" width="287" height="78" fill="#fff"/>
<polygon points="6.5,27.5 73.5,27.5 73.5,54.5 146.5,54.5 146.5,102.5 6.5,102.5" fill="url(#pg)" stroke="#0000b4" stroke-width="1"/>
<polygon points="221.5,27.5 288.5,27.5 288.5,102.5 149.5,102.5 149.5,54.5 221.5,54.5" fill="url(#pg)" stroke="#0000b4" stroke-width="1"/>
<rect x="10" y="53" width="60" height="1" fill="#000080"/><rect x="10" y="54" width="60" height="1" fill="#7878ff"/>
<rect x="225" y="53" width="60" height="1" fill="#000080"/><rect x="225" y="54" width="60" height="1" fill="#7878ff"/>
</svg>
<div class="t w" id="sell" style="left:16.5px;top:5.5px;font-size:16.5px;transform-origin:0 0;transform:scaleX(0.845)">SELL</div>
<div class="t w" id="buy" style="left:234px;top:5.5px;font-size:16.5px;transform-origin:0 0;transform:scaleX(0.883)">BUY</div>
<div class="t w" id="s1" style="left:30px;top:52px;font-size:15.5px;font-weight:bold;transform-origin:0 0;transform:scaleX(1.07)">1293</div>
<div class="t w" id="s2" style="left:69px;top:31px;font-size:41px;letter-spacing:1px">10</div>
<div class="t w" id="b1" style="left:172.5px;top:52px;font-size:15.5px;font-weight:bold;transform-origin:0 0;transform:scaleX(1.07)">1293</div>
<div class="t w" id="b2" style="left:214px;top:31px;font-size:41px;letter-spacing:-2px">53</div>
<div id="vol" style="position:absolute;left:70px;top:0;width:141px;height:23px;border:1px solid #a9abb3;background:#fff">
<div style="position:absolute;left:0px;top:0px;width:23px;height:23px;background:linear-gradient(to bottom,#f3f3f3 0,#ececec 33%,#dedede 36%,#d0d0d0 100%)"></div>
<div style="position:absolute;left:23px;top:0;width:1px;height:23px;background:#a9abb3"></div>
<svg style="position:absolute;left:7.5px;top:10px" width="8" height="5"><polygon points="0,0 8,0 4,4.5" fill="#5868a8"/></svg>
<div style="position:absolute;left:118px;top:0px;width:23px;height:23px;background:linear-gradient(to bottom,#f3f3f3 0,#ececec 33%,#dedede 36%,#d0d0d0 100%)"></div>
<div style="position:absolute;left:117px;top:0;width:1px;height:23px;background:#a9abb3"></div>
<svg style="position:absolute;left:125px;top:8px" width="8" height="5"><polygon points="0,4.5 8,4.5 4,0" fill="#5868a8"/></svg>
<div class="t" id="volt" style="right:26px;top:4.5px;font-size:16px;letter-spacing:0.2px">1.00</div>
</div>
</div>
</body></html>
